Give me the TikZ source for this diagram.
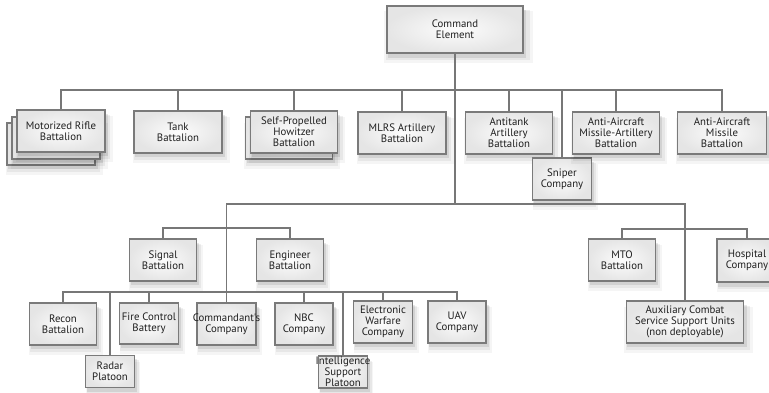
\documentclass[tikz,border=0pt]{standalone}
\usepackage{fontspec}
\newfontfamily\unitfont{PT Sans}
\usetikzlibrary{shadows}
\definecolor{linegray}{HTML}{777777}
\definecolor{boxedge}{HTML}{7A7A7A}
\tikzset{
  softshadow/.style={
    general shadow={fill=black, opacity=0.04, shadow xshift=3pt, shadow yshift=-7pt, shadow scale=1.10},
    general shadow={fill=black, opacity=0.06, shadow xshift=2.5pt, shadow yshift=-5.5pt, shadow scale=1.06},
    general shadow={fill=black, opacity=0.09, shadow xshift=2pt, shadow yshift=-4pt, shadow scale=1.02}},
  unit/.style={rectangle, draw=boxedge, line width=1.3pt, inner sep=0pt,
    shade, inner color=gray!2, outer color=gray!20, softshadow},
  lbl/.style={align=center, inner sep=0pt, text=black!88,
    font=\unitfont\fontsize{10.8}{10.9}\selectfont},
  conn/.style={draw=linegray, line width=1.2pt},
}
\begin{document}
\begin{tikzpicture}[x=1pt,y=-1pt]
\useasboundingbox (0,0) rectangle (769,393);
\coordinate (busA) at (0,90);
\coordinate (busB) at (0,204);
\coordinate (busC) at (0,228);
\coordinate (busD) at (0,292);
\coordinate (busE) at (0,229);

\node[unit, minimum width=136, minimum height=47, label={[lbl]center:Command\\Element}] (ce) at (455,29.5) {};

\node[unit, minimum width=88, minimum height=42] (mr3) at (51,144) {};
\node[unit, minimum width=88, minimum height=42] (mr2) at (56,138) {};
\node[unit, minimum width=88, minimum height=42, label={[lbl]center:Motorized Rifle\\Battalion}] (mr) at (61,131) {};
\node[unit, minimum width=88, minimum height=42, label={[lbl]center:Tank\\Battalion}] (tank) at (178,132) {};
\node[unit, minimum width=87, minimum height=42] (sph2) at (289,138) {};
\node[unit, minimum width=87, minimum height=42, label={[lbl]center:Self-Propelled\\Howitzer\\Battalion}] (sph) at (294,132) {};
\node[unit, minimum width=88, minimum height=42, label={[lbl]center:MLRS Artillery\\Battalion}] (mlrs) at (402,133) {};
\node[unit, minimum width=87, minimum height=42, label={[lbl]center:Antitank\\Artillery\\Battalion}] (at) at (509,133) {};
\node[unit, minimum width=59, minimum height=42, label={[lbl]center:Sniper\\Company}] (sn) at (562,179) {};
\node[unit, minimum width=87, minimum height=42, label={[lbl]center:Anti-Aircraft\\Missile-Artillery\\Battalion}] (aams) at (616,133) {};
\node[unit, minimum width=89, minimum height=42, label={[lbl]center:Anti-Aircraft\\Missile\\Battalion}] (aam) at (722,133) {};

\node[unit, minimum width=67, minimum height=42, label={[lbl]center:Signal\\Battalion}] (sig) at (163,260) {};
\node[unit, minimum width=67, minimum height=42, label={[lbl]center:Engineer\\Battalion}] (eng) at (290,260) {};
\node[unit, minimum width=67, minimum height=42, label={[lbl]center:Recon\\Battalion}] (rec) at (63,324) {};
\node[unit, minimum width=49, minimum height=32, label={[lbl]center:Radar\\Platoon}] (rad) at (110,371.5) {};
\node[unit, minimum width=59, minimum height=41, label={[lbl]center:Fire Control\\Battery}] (fc) at (149,323.5) {};
\node[unit, minimum width=59, minimum height=42, label={[lbl]center:Commandant's\\Company}] (com) at (226.5,324) {};
\node[unit, minimum width=58, minimum height=42, label={[lbl]center:NBC\\Company}] (nbc) at (304,324) {};
\node[unit, minimum width=49, minimum height=32, label={[lbl]center:Intelligence\\Support\\Platoon}] (intel) at (343,372) {};
\node[unit, minimum width=59, minimum height=42, label={[lbl]center:Electronic\\Warfare\\Company}] (ew) at (383,322) {};
\node[unit, minimum width=58, minimum height=42, label={[lbl]center:UAV\\Company}] (uav) at (457,322) {};
\node[unit, minimum width=67, minimum height=42, label={[lbl]center:MTO\\Battalion}] (mto) at (622,260) {};
\node[unit, minimum width=60, minimum height=43, label={[lbl]center:Hospital\\Company}] (hosp) at (747,260.5) {};
\node[unit, minimum width=117, minimum height=42, label={[lbl]center:Auxiliary Combat\\Service Support Units\\(non deployable)}] (aux) at (685,322) {};

\path[conn] (ce.south) -- (ce.south |- busB);
\path[conn] (mr.north) -- (mr.north |- busA) -- (aam.north |- busA) -- (aam.north);
\foreach \n in {tank,sph,mlrs,at,sn,aams}
  \path[conn] (\n.north) -- (\n.north |- busA);
\path[conn] (com.north) -- (com.north |- busB) -- (aux.north |- busB) -- (aux.north);
\path[conn] (sig.north) -- (sig.north |- busC) -- (eng.north |- busC) -- (eng.north);
\path[conn] (rec.north) -- (rec.north |- busD) -- (uav.north |- busD) -- (uav.north);
\foreach \n in {rad,fc,nbc,intel,ew}
  \path[conn] (\n.north) -- (\n.north |- busD);
\path[conn] (mto.north) -- (mto.north |- busE) -- (hosp.north |- busE) -- (hosp.north);
\end{tikzpicture}
\end{document}
